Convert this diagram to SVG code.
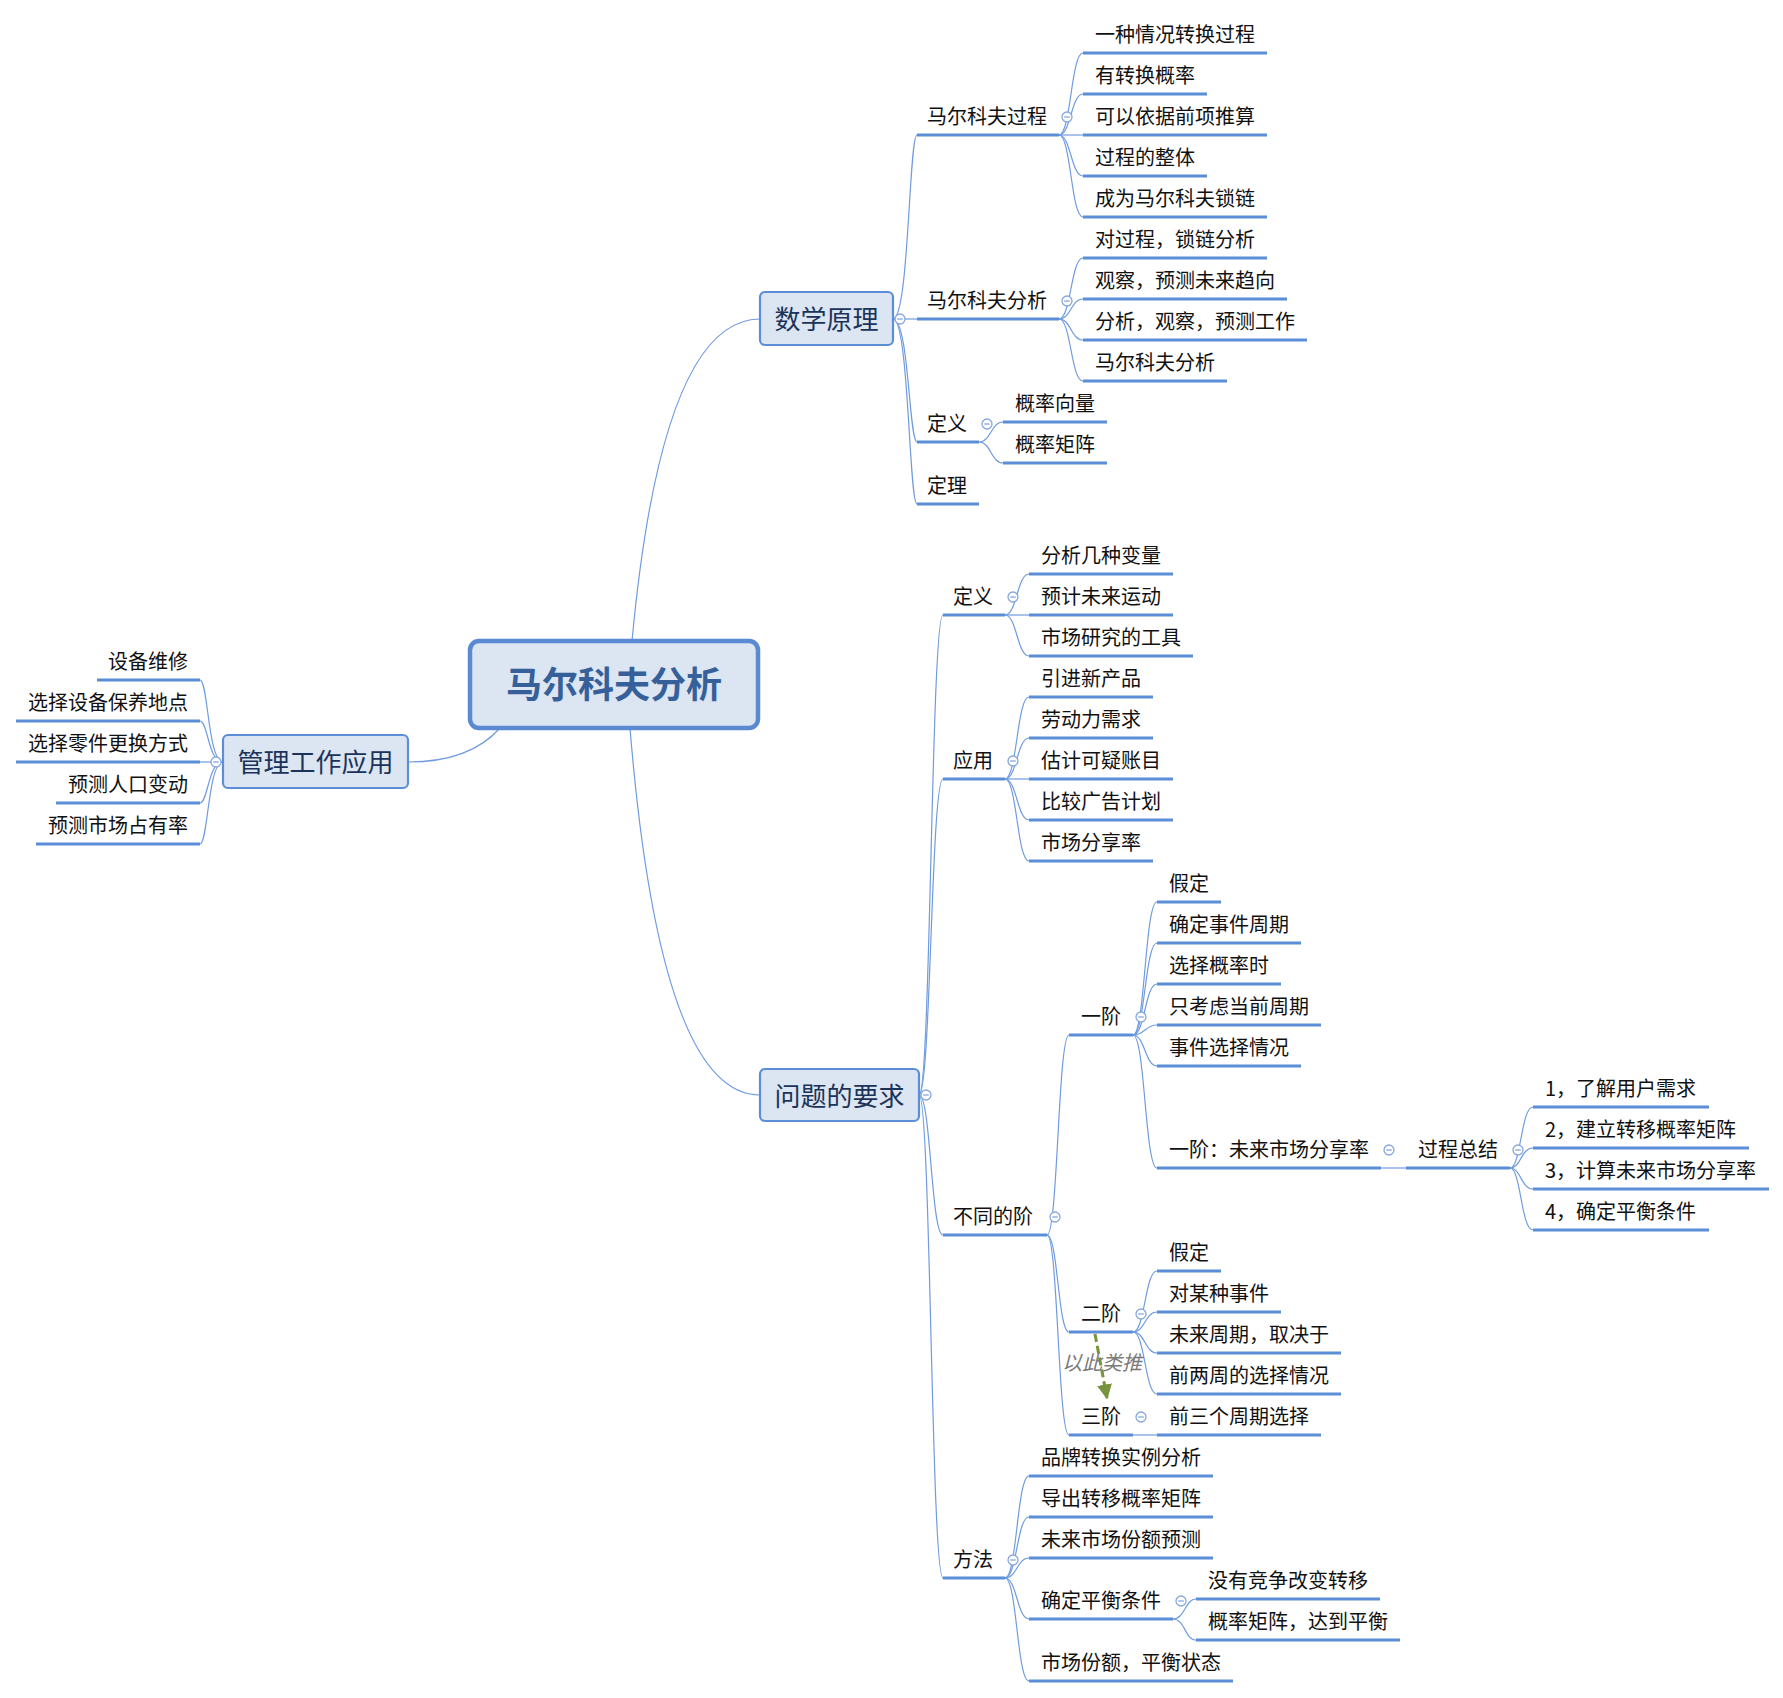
<svg xmlns="http://www.w3.org/2000/svg" width="1783" height="1698" viewBox="0 0 1783 1698">
<style>
text{font-family:"Noto Sans CJK SC","Noto Sans CJK JP",sans-serif;}
.lf{font-size:20px;fill:#111;}
.le{font-size:20px;fill:#111;text-anchor:end;}
.ul{stroke:#5b8ed6;stroke-width:3;fill:none;}
.cn{stroke:#6f9be0;stroke-width:1.2;fill:none;}
.box{fill:#dce6f2;stroke:#5b8ed6;stroke-width:2.2;}
.mt{font-size:26px;fill:#1b3358;text-anchor:middle;}
.root{fill:#dce6f2;stroke:#5a8ad2;stroke-width:4.5;}
.rt{font-size:36px;font-weight:bold;fill:#36609a;text-anchor:middle;}
.c{fill:#fff;stroke:#86a8dc;stroke-width:1.3;}
.cm{stroke:#86a8dc;stroke-width:1.3;}
.hint{font-size:20px;font-style:italic;fill:#7a7a7a;}
.dash{stroke:#77933c;stroke-width:3;fill:none;stroke-dasharray:8 4;}
</style>
<defs>
<marker id="arr" viewBox="0 0 10 10" refX="9" refY="5" markerWidth="5" markerHeight="5" orient="auto" markerUnits="strokeWidth">
<path d="M0,0 L10,5 L0,10 z" fill="#77933c"/>
</marker>
<g id="col"><circle class="c" r="5"/><line class="cm" x1="-2.8" y1="0" x2="2.8" y2="0"/></g>
</defs>
<rect width="1783" height="1698" fill="#fff"/>

<g id="connectors">
<path class="cn" d="M632 641 Q662 319 760 319"/>
<path class="cn" d="M630 728 Q660 1095 760 1095"/>
<path class="cn" d="M500 728 Q470 762 408 762"/>
<path class="cn" d="M893 319 C909 319 909 135 917 135"/>
<path class="cn" d="M893 319 L917 319"/>
<path class="cn" d="M893 319 C909 319 909 442 917 442"/>
<path class="cn" d="M893 319 C909 319 909 504 917 504"/>
<path class="cn" d="M1059 135 C1071 135 1071 53 1083 53"/>
<path class="cn" d="M1059 135 C1071 135 1071 94 1083 94"/>
<path class="cn" d="M1059 135 L1083 135"/>
<path class="cn" d="M1059 135 C1071 135 1071 176 1083 176"/>
<path class="cn" d="M1059 135 C1071 135 1071 217 1083 217"/>
<path class="cn" d="M1059 319 C1071 319 1071 258 1083 258"/>
<path class="cn" d="M1059 319 C1071 319 1071 299 1083 299"/>
<path class="cn" d="M1059 319 C1071 319 1071 340 1083 340"/>
<path class="cn" d="M1059 319 C1071 319 1071 381 1083 381"/>
<path class="cn" d="M979 442 C991 442 991 422 1003 422"/>
<path class="cn" d="M979 442 C991 442 991 463 1003 463"/>
<path class="cn" d="M223 762 C208 762 208 680 200 680"/>
<path class="cn" d="M223 762 C208 762 208 721 200 721"/>
<path class="cn" d="M223 762 L200 762"/>
<path class="cn" d="M223 762 C208 762 208 803 200 803"/>
<path class="cn" d="M223 762 C208 762 208 844 200 844"/>
<path class="cn" d="M919 1095 C931 1095 931 615 943 615"/>
<path class="cn" d="M919 1095 C931 1095 931 779 943 779"/>
<path class="cn" d="M919 1095 C931 1095 931 1235 943 1235"/>
<path class="cn" d="M919 1095 C931 1095 931 1578 943 1578"/>
<path class="cn" d="M1005 615 C1017 615 1017 574 1029 574"/>
<path class="cn" d="M1005 615 L1029 615"/>
<path class="cn" d="M1005 615 C1017 615 1017 656 1029 656"/>
<path class="cn" d="M1005 779 C1017 779 1017 697 1029 697"/>
<path class="cn" d="M1005 779 C1017 779 1017 738 1029 738"/>
<path class="cn" d="M1005 779 L1029 779"/>
<path class="cn" d="M1005 779 C1017 779 1017 820 1029 820"/>
<path class="cn" d="M1005 779 C1017 779 1017 861 1029 861"/>
<path class="cn" d="M1047 1235 C1058 1235 1058 1035 1069 1035"/>
<path class="cn" d="M1047 1235 C1058 1235 1058 1332 1069 1332"/>
<path class="cn" d="M1047 1235 C1058 1235 1058 1435 1069 1435"/>
<path class="cn" d="M1133 1035 C1145 1035 1145 902 1157 902"/>
<path class="cn" d="M1133 1035 C1145 1035 1145 943 1157 943"/>
<path class="cn" d="M1133 1035 C1145 1035 1145 984 1157 984"/>
<path class="cn" d="M1133 1035 C1145 1035 1145 1025 1157 1025"/>
<path class="cn" d="M1133 1035 C1145 1035 1145 1066 1157 1066"/>
<path class="cn" d="M1133 1035 C1145 1035 1145 1168 1157 1168"/>
<path class="cn" d="M1381 1168 L1406 1168"/>
<path class="cn" d="M1510 1168 C1521 1168 1521 1107 1533 1107"/>
<path class="cn" d="M1510 1168 C1521 1168 1521 1148 1533 1148"/>
<path class="cn" d="M1510 1168 C1521 1168 1521 1189 1533 1189"/>
<path class="cn" d="M1510 1168 C1521 1168 1521 1230 1533 1230"/>
<path class="cn" d="M1133 1332 C1145 1332 1145 1271 1157 1271"/>
<path class="cn" d="M1133 1332 C1145 1332 1145 1312 1157 1312"/>
<path class="cn" d="M1133 1332 C1145 1332 1145 1353 1157 1353"/>
<path class="cn" d="M1133 1332 C1145 1332 1145 1394 1157 1394"/>
<path class="cn" d="M1133 1435 L1157 1435"/>
<path class="cn" d="M1005 1578 C1017 1578 1017 1476 1029 1476"/>
<path class="cn" d="M1005 1578 C1017 1578 1017 1517 1029 1517"/>
<path class="cn" d="M1005 1578 C1017 1578 1017 1558 1029 1558"/>
<path class="cn" d="M1005 1578 C1017 1578 1017 1619 1029 1619"/>
<path class="cn" d="M1005 1578 C1017 1578 1017 1681 1029 1681"/>
<path class="cn" d="M1173 1619 C1185 1619 1185 1599 1196 1599"/>
<path class="cn" d="M1173 1619 C1185 1619 1185 1640 1196 1640"/>
<path class="dash" d="M1095 1334 L1107 1398" marker-end="url(#arr)"/>
</g>

<g id="root">
<rect class="root" x="470" y="641" width="288" height="87" rx="9"/>
<text class="rt" x="614" y="698">马尔科夫分析</text>
</g>

<g id="n-math">
<rect class="box" x="760" y="292" width="133" height="53" rx="5"/>
<text class="mt" x="826.5" y="329">数学原理</text>
<use href="#col" x="900" y="319"/>
</g>
<g id="n-mgmt">
<rect class="box" x="223" y="735" width="185" height="53" rx="5"/>
<text class="mt" x="315.5" y="772">管理工作应用</text>
<use href="#col" x="216" y="762"/>
</g>
<g id="n-req">
<rect class="box" x="760" y="1069" width="159" height="52" rx="5"/>
<text class="mt" x="839.5" y="1106">问题的要求</text>
<use href="#col" x="926" y="1095"/>
</g>

<g id="n-mp"><line class="ul" x1="917" y1="135" x2="1059" y2="135"/><text class="lf" x="927" y="124">马尔科夫过程</text><use href="#col" x="1067" y="117"/></g>
<g id="n-mp1"><line class="ul" x1="1083" y1="53" x2="1267" y2="53"/><text class="lf" x="1095" y="42">一种情况转换过程</text></g>
<g id="n-mp2"><line class="ul" x1="1083" y1="94" x2="1207" y2="94"/><text class="lf" x="1095" y="83">有转换概率</text></g>
<g id="n-mp3"><line class="ul" x1="1083" y1="135" x2="1267" y2="135"/><text class="lf" x="1095" y="124">可以依据前项推算</text></g>
<g id="n-mp4"><line class="ul" x1="1083" y1="176" x2="1207" y2="176"/><text class="lf" x="1095" y="165">过程的整体</text></g>
<g id="n-mp5"><line class="ul" x1="1083" y1="217" x2="1267" y2="217"/><text class="lf" x="1095" y="206">成为马尔科夫锁链</text></g>

<g id="n-ma"><line class="ul" x1="917" y1="319" x2="1059" y2="319"/><text class="lf" x="927" y="308">马尔科夫分析</text><use href="#col" x="1067" y="301"/></g>
<g id="n-ma1"><line class="ul" x1="1083" y1="258" x2="1267" y2="258"/><text class="lf" x="1095" y="247">对过程，锁链分析</text></g>
<g id="n-ma2"><line class="ul" x1="1083" y1="299" x2="1287" y2="299"/><text class="lf" x="1095" y="288">观察，预测未来趋向</text></g>
<g id="n-ma3"><line class="ul" x1="1083" y1="340" x2="1307" y2="340"/><text class="lf" x="1095" y="329">分析，观察，预测工作</text></g>
<g id="n-ma4"><line class="ul" x1="1083" y1="381" x2="1227" y2="381"/><text class="lf" x="1095" y="370">马尔科夫分析</text></g>

<g id="n-def1"><line class="ul" x1="917" y1="442" x2="979" y2="442"/><text class="lf" x="927" y="431">定义</text><use href="#col" x="987" y="424"/></g>
<g id="n-def1a"><line class="ul" x1="1003" y1="422" x2="1107" y2="422"/><text class="lf" x="1015" y="411">概率向量</text></g>
<g id="n-def1b"><line class="ul" x1="1003" y1="463" x2="1107" y2="463"/><text class="lf" x="1015" y="452">概率矩阵</text></g>
<g id="n-thm"><line class="ul" x1="917" y1="504" x2="979" y2="504"/><text class="lf" x="927" y="493">定理</text></g>

<g id="n-g1"><line class="ul" x1="97" y1="680" x2="200" y2="680"/><text class="le" x="188" y="669">设备维修</text></g>
<g id="n-g2"><line class="ul" x1="16" y1="721" x2="200" y2="721"/><text class="le" x="188" y="710">选择设备保养地点</text></g>
<g id="n-g3"><line class="ul" x1="16" y1="762" x2="200" y2="762"/><text class="le" x="188" y="751">选择零件更换方式</text></g>
<g id="n-g4"><line class="ul" x1="56" y1="803" x2="200" y2="803"/><text class="le" x="188" y="792">预测人口变动</text></g>
<g id="n-g5"><line class="ul" x1="36" y1="844" x2="200" y2="844"/><text class="le" x="188" y="833">预测市场占有率</text></g>

<g id="n-def2"><line class="ul" x1="943" y1="615" x2="1005" y2="615"/><text class="lf" x="953" y="604">定义</text><use href="#col" x="1013" y="597"/></g>
<g id="n-def2a"><line class="ul" x1="1029" y1="574" x2="1173" y2="574"/><text class="lf" x="1041" y="563">分析几种变量</text></g>
<g id="n-def2b"><line class="ul" x1="1029" y1="615" x2="1173" y2="615"/><text class="lf" x="1041" y="604">预计未来运动</text></g>
<g id="n-def2c"><line class="ul" x1="1029" y1="656" x2="1193" y2="656"/><text class="lf" x="1041" y="645">市场研究的工具</text></g>

<g id="n-app"><line class="ul" x1="943" y1="779" x2="1005" y2="779"/><text class="lf" x="953" y="768">应用</text><use href="#col" x="1013" y="761"/></g>
<g id="n-app1"><line class="ul" x1="1029" y1="697" x2="1153" y2="697"/><text class="lf" x="1041" y="686">引进新产品</text></g>
<g id="n-app2"><line class="ul" x1="1029" y1="738" x2="1153" y2="738"/><text class="lf" x="1041" y="727">劳动力需求</text></g>
<g id="n-app3"><line class="ul" x1="1029" y1="779" x2="1173" y2="779"/><text class="lf" x="1041" y="768">估计可疑账目</text></g>
<g id="n-app4"><line class="ul" x1="1029" y1="820" x2="1173" y2="820"/><text class="lf" x="1041" y="809">比较广告计划</text></g>
<g id="n-app5"><line class="ul" x1="1029" y1="861" x2="1153" y2="861"/><text class="lf" x="1041" y="850">市场分享率</text></g>

<g id="n-ord"><line class="ul" x1="943" y1="1235" x2="1047" y2="1235"/><text class="lf" x="953" y="1224">不同的阶</text><use href="#col" x="1055" y="1217"/></g>

<g id="n-o1"><line class="ul" x1="1069" y1="1035" x2="1133" y2="1035"/><text class="lf" x="1081" y="1024">一阶</text><use href="#col" x="1141" y="1017"/></g>
<g id="n-o1a"><line class="ul" x1="1157" y1="902" x2="1221" y2="902"/><text class="lf" x="1169" y="891">假定</text></g>
<g id="n-o1b"><line class="ul" x1="1157" y1="943" x2="1301" y2="943"/><text class="lf" x="1169" y="932">确定事件周期</text></g>
<g id="n-o1c"><line class="ul" x1="1157" y1="984" x2="1281" y2="984"/><text class="lf" x="1169" y="973">选择概率时</text></g>
<g id="n-o1d"><line class="ul" x1="1157" y1="1025" x2="1321" y2="1025"/><text class="lf" x="1169" y="1014">只考虑当前周期</text></g>
<g id="n-o1e"><line class="ul" x1="1157" y1="1066" x2="1301" y2="1066"/><text class="lf" x="1169" y="1055">事件选择情况</text></g>
<g id="n-o1f"><line class="ul" x1="1157" y1="1168" x2="1381" y2="1168"/><text class="lf" x="1169" y="1157">一阶：未来市场分享率</text><use href="#col" x="1389" y="1150"/></g>
<g id="n-sum"><line class="ul" x1="1406" y1="1168" x2="1510" y2="1168"/><text class="lf" x="1418" y="1157">过程总结</text><use href="#col" x="1518" y="1150"/></g>
<g id="n-s1"><line class="ul" x1="1533" y1="1107" x2="1709" y2="1107"/><text class="lf" x="1545" y="1096">1，了解用户需求</text></g>
<g id="n-s2"><line class="ul" x1="1533" y1="1148" x2="1749" y2="1148"/><text class="lf" x="1545" y="1137">2，建立转移概率矩阵</text></g>
<g id="n-s3"><line class="ul" x1="1533" y1="1189" x2="1769" y2="1189"/><text class="lf" x="1545" y="1178">3，计算未来市场分享率</text></g>
<g id="n-s4"><line class="ul" x1="1533" y1="1230" x2="1709" y2="1230"/><text class="lf" x="1545" y="1219">4，确定平衡条件</text></g>

<g id="n-o2"><line class="ul" x1="1069" y1="1332" x2="1133" y2="1332"/><text class="lf" x="1081" y="1321">二阶</text><use href="#col" x="1141" y="1314"/></g>
<g id="n-o2a"><line class="ul" x1="1157" y1="1271" x2="1221" y2="1271"/><text class="lf" x="1169" y="1260">假定</text></g>
<g id="n-o2b"><line class="ul" x1="1157" y1="1312" x2="1281" y2="1312"/><text class="lf" x="1169" y="1301">对某种事件</text></g>
<g id="n-o2c"><line class="ul" x1="1157" y1="1353" x2="1341" y2="1353"/><text class="lf" x="1169" y="1342">未来周期，取决于</text></g>
<g id="n-o2d"><line class="ul" x1="1157" y1="1394" x2="1341" y2="1394"/><text class="lf" x="1169" y="1383">前两周的选择情况</text></g>

<g id="n-o3"><line class="ul" x1="1069" y1="1435" x2="1133" y2="1435"/><text class="lf" x="1081" y="1424">三阶</text><use href="#col" x="1141" y="1417"/></g>
<g id="n-o3a"><line class="ul" x1="1157" y1="1435" x2="1321" y2="1435"/><text class="lf" x="1169" y="1424">前三个周期选择</text></g>

<g id="n-hint"><text class="hint" x="1062" y="1370">以此类推</text></g>

<g id="n-meth"><line class="ul" x1="943" y1="1578" x2="1005" y2="1578"/><text class="lf" x="953" y="1567">方法</text><use href="#col" x="1013" y="1560"/></g>
<g id="n-m1"><line class="ul" x1="1029" y1="1476" x2="1213" y2="1476"/><text class="lf" x="1041" y="1465">品牌转换实例分析</text></g>
<g id="n-m2"><line class="ul" x1="1029" y1="1517" x2="1213" y2="1517"/><text class="lf" x="1041" y="1506">导出转移概率矩阵</text></g>
<g id="n-m3"><line class="ul" x1="1029" y1="1558" x2="1213" y2="1558"/><text class="lf" x="1041" y="1547">未来市场份额预测</text></g>
<g id="n-m4"><line class="ul" x1="1029" y1="1619" x2="1173" y2="1619"/><text class="lf" x="1041" y="1608">确定平衡条件</text><use href="#col" x="1181" y="1601"/></g>
<g id="n-m4a"><line class="ul" x1="1196" y1="1599" x2="1380" y2="1599"/><text class="lf" x="1208" y="1588">没有竞争改变转移</text></g>
<g id="n-m4b"><line class="ul" x1="1196" y1="1640" x2="1400" y2="1640"/><text class="lf" x="1208" y="1629">概率矩阵，达到平衡</text></g>
<g id="n-m5"><line class="ul" x1="1029" y1="1681" x2="1233" y2="1681"/><text class="lf" x="1041" y="1670">市场份额，平衡状态</text></g>
</svg>
